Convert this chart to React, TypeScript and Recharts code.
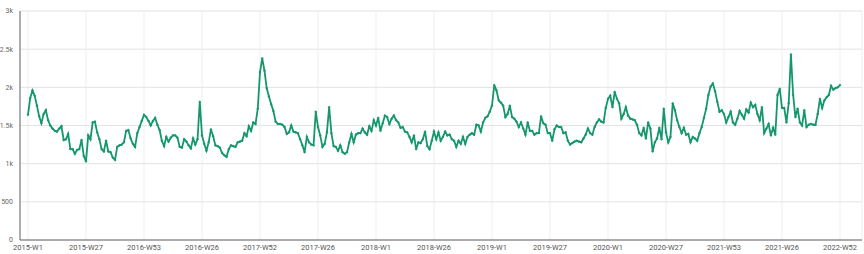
import { LineChart, Line, XAxis, YAxis, CartesianGrid } from "recharts";

const tickLabels = [
  "2015-W1", "2015-W27", "2016-W53", "2016-W26", "2017-W52",
  "2017-W26", "2018-W1", "2018-W26", "2019-W1", "2019-W27",
  "2020-W1", "2020-W27", "2021-W53", "2021-W26", "2022-W52",
];

// weekly counts
const counts = [
  1640, 1860, 1960, 1890, 1760, 1620, 1530, 1650, 1700, 1570, 1500, 1460, 1430,
  1420, 1460, 1490, 1310, 1320, 1390, 1190, 1190, 1130, 1180, 1190, 1310, 1100,
  1030, 1370, 1320, 1540, 1550, 1410, 1320, 1190, 1160, 1300, 1160, 1150, 1080,
  1050, 1220, 1240, 1250, 1280, 1430, 1440, 1330, 1260, 1220, 1400, 1480, 1560,
  1640, 1610, 1560, 1500, 1560, 1600, 1510, 1440, 1300, 1230, 1350, 1290, 1340,
  1370, 1370, 1340, 1220, 1210, 1320, 1290, 1240, 1200, 1330, 1250, 1320, 1810,
  1370, 1260, 1170, 1280, 1450, 1360, 1240, 1230, 1210, 1140, 1110, 1090, 1190,
  1240, 1230, 1220, 1280, 1290, 1300, 1400, 1360, 1490, 1430, 1540, 1520, 1720,
  2200, 2380, 2220, 1990, 1880, 1780, 1690, 1550, 1520, 1520, 1510, 1480, 1390,
  1410, 1500, 1420, 1410, 1400, 1320, 1240, 1150, 1350, 1280, 1250, 1240, 1680,
  1480, 1370, 1220, 1260, 1410, 1740, 1400, 1230, 1220, 1170, 1240, 1150, 1130,
  1150, 1280, 1390, 1280, 1380, 1400, 1400, 1460, 1410, 1380, 1490, 1430, 1570,
  1500, 1600, 1430, 1530, 1630, 1610, 1520, 1590, 1630, 1570, 1540, 1470, 1480,
  1420, 1410, 1350, 1280, 1370, 1190, 1280, 1270, 1320, 1420, 1230, 1190, 1300,
  1420, 1320, 1410, 1300, 1350, 1420, 1370, 1380, 1320, 1300, 1220, 1300, 1260,
  1350, 1260, 1350, 1380, 1400, 1380, 1510, 1500, 1420, 1540, 1600, 1620, 1680,
  1760, 2030, 1960, 1830, 1800, 1760, 1610, 1650, 1760, 1610, 1590, 1550, 1480,
  1540, 1460, 1380, 1540, 1430, 1430, 1380, 1400, 1400, 1620, 1530, 1510, 1400,
  1400, 1300, 1450, 1500, 1480, 1480, 1400, 1410, 1300, 1250, 1270, 1290, 1300,
  1290, 1280, 1330, 1380, 1460, 1400, 1380, 1480, 1540, 1580, 1550, 1540, 1730,
  1850, 1890, 1740, 1940, 1850, 1790, 1590, 1650, 1740, 1630, 1590, 1580, 1570,
  1510, 1400, 1370, 1470, 1330, 1540, 1460, 1160, 1280, 1330, 1470, 1320, 1720,
  1410, 1280, 1350, 1790, 1700, 1570, 1480, 1400, 1470, 1380, 1390, 1280, 1350,
  1330, 1300, 1400, 1480, 1600, 1720, 1900, 2010, 2050, 1950, 1810, 1680, 1700,
  1650, 1540, 1610, 1680, 1540, 1510, 1590, 1690, 1640, 1590, 1710, 1670, 1800,
  1740, 1770, 1650, 1570, 1740, 1400, 1460, 1520, 1370, 1470, 1380, 1900, 1980,
  1730, 1730, 1540, 1790, 2430, 1900, 1610, 1720, 1540, 1500, 1700, 1480, 1510,
  1520, 1510, 1510, 1650, 1850, 1730, 1830, 1870, 1900, 2020, 1970, 1990, 2000,
  2030,
];

const yTicks = [0, 500, 1000, 1500, 2000, 2500, 3000];

const data = counts.map((v, i) => ({ i, v }));
const last = counts.length - 1;
const xTicks = tickLabels.map((_, k) => Math.round((k * last) / (tickLabels.length - 1)));

const GREEN = "#14976c";

function fmtY(v: number) {
  return v >= 1000 ? `${v / 1000}k` : `${v}`;
}

export default function App() {
  return (
    <div style={{ position: "absolute", left: 0, top: 0, fontFamily: "Roboto, sans-serif" }}>
      <LineChart
        width={864}
        height={254}
        data={data}
        margin={{ top: 11, right: 2, left: 0, bottom: 0 }}
      >
        <CartesianGrid horizontal={false} stroke="#edeff5" />
        <CartesianGrid vertical={false} stroke="#e3e3e3" />
        <XAxis
          dataKey="i"
          type="number"
          domain={[0, last]}
          ticks={xTicks}
          interval={0}
          tickFormatter={(i: number) => tickLabels[xTicks.indexOf(i)] ?? ""}
          padding={{ left: 8, right: 22 }}
          height={14}
          tickLine={false}
          tickSize={2}
          tickMargin={3}
          axisLine={{ stroke: "#666" }}
          tick={{ fontSize: 7.5, fill: "#555" }}
        />
        <YAxis
          domain={[0, 3000]}
          ticks={yTicks}
          interval={0}
          width={20}
          tickFormatter={fmtY}
          tickLine={false}
          tickSize={5}
          tickMargin={2}
          axisLine={{ stroke: "#666" }}
          tick={{ fontSize: 7, fill: "#666" }}
        />
        <Line
          type="linear"
          dataKey="v"
          stroke={GREEN}
          strokeWidth={1.8}
          dot={{ r: 0.9, fill: GREEN, stroke: GREEN, strokeWidth: 0.6 }}
          isAnimationActive={false}
        />
      </LineChart>
    </div>
  );
}
